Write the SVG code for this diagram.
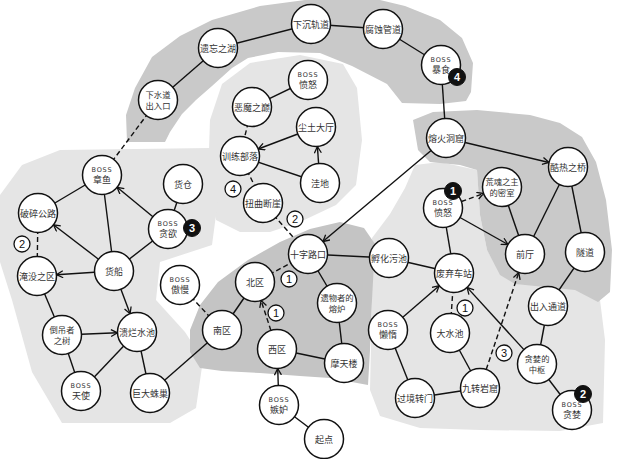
<svg xmlns="http://www.w3.org/2000/svg" width="620" height="459" viewBox="0 0 620 459">
<defs>
<style>
.bgd{fill:#c9c9c9}
.bgl{fill:#e5e5e5}
.bgc{fill:#c4c4c4}
.n circle{fill:#fff;stroke:#111;stroke-width:1.5}
.n text{font-family:"Noto Sans CJK SC","Noto Sans",sans-serif;font-size:9px;fill:#333;text-anchor:middle}
.n text.t{font-size:8.3px}
.n text.b{font-family:"DejaVu Sans","Liberation Sans",sans-serif;font-size:6.5px;letter-spacing:0.8px}
.e line{stroke:#111;stroke-width:1.4;fill:none}
.e line.d{stroke-dasharray:5,3}
.e line.a{marker-end:url(#ah)}
.bw circle{fill:#fff;stroke:#111;stroke-width:1.3}
.bw text{font-family:"Liberation Sans",sans-serif;font-size:11px;fill:#111;text-anchor:middle}
.bk circle{fill:#111;stroke:#111;stroke-width:1}
.bk text{font-family:"Liberation Sans",sans-serif;font-size:11px;fill:#fff;text-anchor:middle;font-weight:bold}
</style>
<marker id="ah" markerWidth="10" markerHeight="10" refX="7" refY="4" orient="auto" markerUnits="userSpaceOnUse">
<path d="M0.5,0.5 L7,4 L0.5,7.5" fill="none" stroke="#111" stroke-width="1.3"/>
</marker>
</defs>

<g id="backgrounds">
<polygon class="bgd" points="127,142 126,115 135,88 152,57 180,36 212,20 260,6 305,0 380,0 405,6 440,20 462,38 473,63 471,92 466,101 440,104 402,103 387,84 352,66 320,53 278,52 248,58 232,68 212,86 196,100 182,114 170,132 165,142"/>
<polygon class="bgl" points="210,120 222,84 250,63 300,55 343,64 357,88 362,140 356,185 336,205 300,222 270,232 240,232 216,220 208,180"/>
<polygon class="bgl" points="60,150 210,148 218,200 212,245 160,262 156,300 185,332 203,360 196,408 170,423 62,423 32,372 12,300 0,262 0,195 22,165"/>
<polygon class="bgl" points="372,238 390,214 405,188 415,165 440,162 477,170 480,215 487,250 500,273 517,284 570,286 600,300 605,340 603,423 560,431 480,430 420,428 380,416 370,390 372,300"/>
<polygon class="bgd" points="413,120 433,112 477,110 530,115 560,123 582,137 596,162 606,200 612,250 610,292 598,302 575,290 545,287 515,284 500,275 487,250 480,215 477,170 460,165 430,162 418,150"/>
<polygon class="bgc" points="190,330 200,305 218,282 248,260 280,242 310,229 340,222 364,228 375,244 372,300 370,350 368,385 330,378 300,376 260,373 222,371 200,368 190,352"/>
</g>

<g id="connectors" class="e">
<line x1="158" y1="100" x2="218" y2="48"/>
<line x1="218" y1="48" x2="311" y2="24"/>
<line x1="311" y1="24" x2="383" y2="29"/>
<line x1="383" y1="29" x2="441" y2="65"/>
<line x1="441" y1="65" x2="446" y2="138"/>
<line x1="308" y1="80" x2="252" y2="107"/>
<line x1="240" y1="156" x2="320" y2="183"/>
<line x1="308" y1="254" x2="389" y2="258"/>
<line x1="308" y1="254" x2="337" y2="303"/>
<line x1="255" y1="282" x2="222" y2="330"/>
<line x1="277" y1="349" x2="344" y2="363"/>
<line x1="337" y1="303" x2="344" y2="363"/>
<line x1="279" y1="405" x2="324" y2="439"/>
<line x1="222" y1="330" x2="150" y2="393"/>
<line x1="389" y1="258" x2="454" y2="273"/>
<line x1="454" y1="273" x2="443" y2="208"/>
<line x1="502" y1="187" x2="525" y2="254"/>
<line x1="525" y1="254" x2="568" y2="167"/>
<line x1="568" y1="167" x2="585" y2="252"/>
<line x1="585" y1="252" x2="548" y2="306"/>
<line x1="548" y1="306" x2="537" y2="364"/>
<line x1="450" y1="333" x2="480" y2="388"/>
<line x1="388" y1="330" x2="415" y2="398"/>
<line x1="415" y1="398" x2="480" y2="388"/>
<line x1="537" y1="364" x2="572" y2="410"/>
<line x1="114" y1="271" x2="102" y2="175"/>
<line x1="102" y1="175" x2="38" y2="213"/>
<line x1="183" y1="184" x2="168" y2="229"/>
<line x1="168" y1="229" x2="114" y2="271"/>
<line x1="37" y1="276" x2="62" y2="335"/>
<line x1="62" y1="335" x2="81" y2="391"/>
<line x1="81" y1="391" x2="137" y2="332"/>
<line x1="137" y1="332" x2="150" y2="393"/>
<line class="d" x1="158" y1="100" x2="102" y2="175"/>
<line class="d" x1="252" y1="107" x2="240" y2="156"/>
<line class="d" x1="240" y1="156" x2="263" y2="203"/>
<line class="d" x1="263" y1="203" x2="308" y2="254"/>
<line class="d" x1="255" y1="282" x2="308" y2="254"/>
<line class="d" x1="180" y1="285" x2="222" y2="330"/>
<line class="d" x1="450" y1="333" x2="454" y2="273"/>
<line class="d" x1="38" y1="213" x2="37" y2="276"/>
<line class="a" x1="431.1" y1="150.5" x2="322.9" y2="241.5"/>
<line class="a" x1="465.0" y1="142.5" x2="549.0" y2="162.5"/>
<line class="a" x1="297.8" y1="134.0" x2="258.2" y2="149.0"/>
<line class="a" x1="318.6" y1="163.5" x2="317.4" y2="146.5"/>
<line class="a d" x1="270.9" y1="330.5" x2="261.1" y2="300.5"/>
<line class="a" x1="278.3" y1="385.5" x2="277.7" y2="368.5"/>
<line class="a d" x1="461.4" y1="201.5" x2="483.6" y2="193.5"/>
<line class="a" x1="460.0" y1="217.5" x2="508.0" y2="244.5"/>
<line class="a" x1="523.9" y1="349.6" x2="467.1" y2="287.4"/>
<line class="a d" x1="486.2" y1="369.5" x2="518.8" y2="272.5"/>
<line class="a" x1="402.8" y1="317.3" x2="439.2" y2="285.7"/>
<line class="a" x1="98.5" y1="259.2" x2="53.5" y2="224.8"/>
<line class="a" x1="152.9" y1="216.7" x2="117.1" y2="187.3"/>
<line class="a" x1="94.5" y1="272.3" x2="56.5" y2="274.7"/>
<line class="a" x1="120.9" y1="289.2" x2="130.1" y2="313.8"/>
<line class="a" x1="81.5" y1="334.2" x2="117.5" y2="332.8"/>
</g>

<g id="n1" class="n"><circle cx="158" cy="100" r="19.5"/><text class="t" x="158" y="97.5">下水道</text><text class="t" x="158" y="108.5">出入口</text></g>
<g id="n2" class="n"><circle cx="218" cy="48" r="19.5"/><text x="218" y="51.5">遗忘之湖</text></g>
<g id="n3" class="n"><circle cx="311" cy="24" r="19.5"/><text x="311" y="27.5">下沉轨道</text></g>
<g id="n4" class="n"><circle cx="383" cy="29" r="19.5"/><text x="383" y="32.5">腐蚀管道</text></g>
<g id="n5" class="n"><circle cx="441" cy="65" r="19.5"/><text class="b" x="441" y="62">BOSS</text><text x="441" y="72.5">暴食</text></g>
<g id="n6" class="n"><circle cx="446" cy="138" r="19.5"/><text x="446" y="141.5">熔火洞窟</text></g>
<g id="n7" class="n"><circle cx="308" cy="80" r="19.5"/><text class="b" x="308" y="77">BOSS</text><text x="308" y="87.5">愤怒</text></g>
<g id="n8" class="n"><circle cx="252" cy="107" r="19.5"/><text x="252" y="110.5">恶魔之巅</text></g>
<g id="n9" class="n"><circle cx="316" cy="127" r="19.5"/><text x="316" y="130.5">尘土大厅</text></g>
<g id="n10" class="n"><circle cx="240" cy="156" r="19.5"/><text x="240" y="159.5">训练部落</text></g>
<g id="n11" class="n"><circle cx="320" cy="183" r="19.5"/><text x="320" y="186.5">洼地</text></g>
<g id="n12" class="n"><circle cx="263" cy="203" r="19.5"/><text x="263" y="206.5">扭曲断崖</text></g>
<g id="n13" class="n"><circle cx="308" cy="254" r="19.5"/><text x="308" y="257.5">十字路口</text></g>
<g id="n14" class="n"><circle cx="389" cy="258" r="19.5"/><text x="389" y="261.5">孵化污池</text></g>
<g id="n15" class="n"><circle cx="255" cy="282" r="19.5"/><text x="255" y="285.5">北区</text></g>
<g id="n16" class="n"><circle cx="337" cy="303" r="19.5"/><text class="t" x="337" y="300.5">遗物者的</text><text class="t" x="337" y="311.5">熔炉</text></g>
<g id="n17" class="n"><circle cx="222" cy="330" r="19.5"/><text x="222" y="333.5">南区</text></g>
<g id="n18" class="n"><circle cx="277" cy="349" r="19.5"/><text x="277" y="352.5">西区</text></g>
<g id="n19" class="n"><circle cx="344" cy="363" r="19.5"/><text x="344" y="366.5">摩天楼</text></g>
<g id="n20" class="n"><circle cx="279" cy="405" r="19.5"/><text class="b" x="279" y="402">BOSS</text><text x="279" y="412.5">嫉妒</text></g>
<g id="n21" class="n"><circle cx="324" cy="439" r="19.5"/><text x="324" y="442.5">起点</text></g>
<g id="n22" class="n"><circle cx="180" cy="285" r="19.5"/><text class="b" x="180" y="282">BOSS</text><text x="180" y="292.5">傲慢</text></g>
<g id="n23" class="n"><circle cx="102" cy="175" r="19.5"/><text class="b" x="102" y="172">BOSS</text><text x="102" y="182.5">章鱼</text></g>
<g id="n24" class="n"><circle cx="183" cy="184" r="19.5"/><text x="183" y="187.5">货仓</text></g>
<g id="n25" class="n"><circle cx="38" cy="213" r="19.5"/><text x="38" y="216.5">破碎公路</text></g>
<g id="n26" class="n"><circle cx="168" cy="229" r="19.5"/><text class="b" x="168" y="226">BOSS</text><text x="168" y="236.5">贪欲</text></g>
<g id="n27" class="n"><circle cx="37" cy="276" r="19.5"/><text x="37" y="279.5">淹没之区</text></g>
<g id="n28" class="n"><circle cx="114" cy="271" r="19.5"/><text x="114" y="274.5">货船</text></g>
<g id="n29" class="n"><circle cx="62" cy="335" r="19.5"/><text class="t" x="62" y="332.5">倒吊者</text><text class="t" x="62" y="343.5">之树</text></g>
<g id="n30" class="n"><circle cx="137" cy="332" r="19.5"/><text x="137" y="335.5">溃烂水池</text></g>
<g id="n31" class="n"><circle cx="81" cy="391" r="19.5"/><text class="b" x="81" y="388">BOSS</text><text x="81" y="398.5">天使</text></g>
<g id="n32" class="n"><circle cx="150" cy="393" r="19.5"/><text x="150" y="396.5">巨大蛛巢</text></g>
<g id="n33" class="n"><circle cx="454" cy="273" r="19.5"/><text x="454" y="276.5">废弃车站</text></g>
<g id="n34" class="n"><circle cx="443" cy="208" r="19.5"/><text class="b" x="443" y="205">BOSS</text><text x="443" y="215.5">愤怒</text></g>
<g id="n35" class="n"><circle cx="502" cy="187" r="19.5"/><text class="t" x="502" y="184.5">荒魂之主</text><text class="t" x="502" y="195.5">的密室</text></g>
<g id="n36" class="n"><circle cx="525" cy="254" r="19.5"/><text x="525" y="257.5">前厅</text></g>
<g id="n37" class="n"><circle cx="568" cy="167" r="19.5"/><text x="568" y="170.5">酷热之桥</text></g>
<g id="n38" class="n"><circle cx="585" cy="252" r="19.5"/><text x="585" y="255.5">隧道</text></g>
<g id="n39" class="n"><circle cx="548" cy="306" r="19.5"/><text x="548" y="309.5">出入通道</text></g>
<g id="n40" class="n"><circle cx="388" cy="330" r="19.5"/><text class="b" x="388" y="327">BOSS</text><text x="388" y="337.5">懒惰</text></g>
<g id="n41" class="n"><circle cx="450" cy="333" r="19.5"/><text x="450" y="336.5">大水池</text></g>
<g id="n42" class="n"><circle cx="537" cy="364" r="19.5"/><text class="t" x="537" y="361.5">贪婪的</text><text class="t" x="537" y="372.5">中枢</text></g>
<g id="n43" class="n"><circle cx="572" cy="410" r="19.5"/><text class="b" x="572" y="407">BOSS</text><text x="572" y="417.5">贪婪</text></g>
<g id="n44" class="n"><circle cx="480" cy="388" r="19.5"/><text x="480" y="391.5">九转岩窟</text></g>
<g id="n45" class="n"><circle cx="415" cy="398" r="19.5"/><text x="415" y="401.5">过境转门</text></g>

<g id="badges">
<g class="bw"><circle cx="22" cy="244" r="8"/><text x="22" y="248">2</text></g>
<g class="bw"><circle cx="233" cy="189" r="8"/><text x="233" y="193">4</text></g>
<g class="bw"><circle cx="295" cy="219" r="8"/><text x="295" y="223">2</text></g>
<g class="bw"><circle cx="289" cy="279" r="8"/><text x="289" y="283">1</text></g>
<g class="bw"><circle cx="276" cy="313" r="8"/><text x="276" y="317">1</text></g>
<g class="bw"><circle cx="465" cy="308" r="8"/><text x="465" y="312">1</text></g>
<g class="bw"><circle cx="504" cy="353" r="8"/><text x="504" y="357">3</text></g>
<g class="bk"><circle cx="457" cy="77" r="8.5"/><text x="457" y="81">4</text></g>
<g class="bk"><circle cx="192" cy="228" r="8.5"/><text x="192" y="232">3</text></g>
<g class="bk"><circle cx="453" cy="191" r="8.5"/><text x="453" y="195">1</text></g>
<g class="bk"><circle cx="583" cy="394" r="8.5"/><text x="583" y="398">2</text></g>
</g>
</svg>
